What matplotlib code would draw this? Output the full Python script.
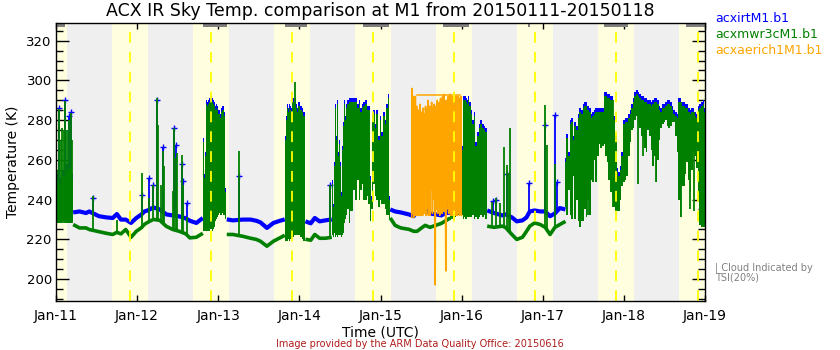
import numpy as np
import matplotlib
matplotlib.use('Agg')
import matplotlib.pyplot as plt
from matplotlib.ticker import MultipleLocator, FixedLocator

nan = np.nan
# ---------------- data (time in days since 2015-01-11 00:00 UTC) ----------------
tick_labels = ['Jan-11', 'Jan-12', 'Jan-13', 'Jan-14', 'Jan-15', 'Jan-16', 'Jan-17', 'Jan-18', 'Jan-19']
tick_days = [0, 1, 2, 3, 4, 5, 6, 7, 8]

day_start = [-0.31, 0.690, 1.686, 2.688, 3.687, 4.686, 5.682, 6.687, 7.682]
day_end = [0.134, 1.132, 2.133, 3.132, 4.131, 5.130, 6.127, 7.127, 8.125]
solar_noon = [-0.083, 0.917, 1.915, 2.914, 3.913, 4.912, 5.910, 6.905, 7.908]

tsi_start = [0.00, 1.81, 2.82, 3.79, 4.77, 5.82, 6.76, 7.76]
tsi_end = [0.11, 2.11, 3.09, 4.11, 5.09, 5.845, 7.05, 8.00]

# baseline (clear-sky) records
base_t = [0.212, 0.29, 0.37, 0.41, 0.53, 0.62, 0.70, 0.75, 0.80, 0.86, 0.925, 0.99, 1.05, 1.09, 1.13,
          1.20, 1.28, 1.36, 1.44, 1.52, 1.60, 1.65, 1.73, 1.81, nan,
          2.105, 2.18, 2.30, 2.40, 2.47, 2.52, 2.60, 2.68, 2.76, 2.82, nan,
          3.075, 3.14, 3.19, 3.25, 3.32, 3.40, nan,
          4.12, 4.18, 4.25, 4.35, 4.41, 4.45, 4.55, 4.61, 4.75, 4.86, nan,
          5.315, 5.40, 5.50, 5.54, 5.62, 5.68, 5.75, 5.80, 5.84, 5.90, 5.97, 6.03, 6.09, 6.15, 6.21, 6.28]
irt_v = [233.5, 234, 233.2, 234, 231.6, 231, 230.7, 232.7, 229.9, 229.9, 228.2, 230.7, 232.4, 234, 234.5,
         236, 235, 232.5, 232, 231.5, 230.5, 229.3, 228.2, 230.7, nan,
         230, 229.5, 229.9, 229.9, 229.3, 228.5, 225.7, 228.2, 229.3, 230, nan,
         229, 228, 230.7, 229, 229.5, 230, nan,
         235, 234, 233.5, 232.5, 231.6, 234.5, 235, 233, 232, 234.5, nan,
         234.5, 233.2, 232, 232.5, 231, 229, 229.5, 231, 234, 234.5, 234, 234, 231.6, 233, 235.7, 235]
mwr_v = [227.4, 225.7, 225.7, 224.9, 223.8, 223, 222.4, 223.5, 222.7, 224.9, 221, 224, 225.7, 227.5, 228.5,
         230, 229.5, 226.5, 224.9, 224, 222.7, 220.7, 221, 223, nan,
         222.4, 222.4, 221.5, 220.5, 219.9, 219, 216.5, 219, 220.7, 222, nan,
         220, 219.5, 222.4, 220.5, 220.5, 221, nan,
         230.7, 227, 225.7, 225, 224, 224, 227, 226, 228, 230.7, nan,
         226.6, 226, 226.6, 226, 222.4, 219.9, 221, 224, 226.6, 228.2, 227.4, 226, 222.4, 226, 227.4, 229]

# cloudy periods: envelopes (min / max) of the rapidly varying records
band_t = [0.000, 0.020, 0.060, 0.100, 0.140, 0.180, 0.205, 0.212, nan,
          1.81, 1.82, 1.83, 1.84, 1.85, 1.86, 1.87, 1.88, 1.89, 1.90, 1.91, 1.92, 1.93, 1.94, 1.95,
          1.96, 1.97, 1.98, 1.99, 2.00, 2.01, 2.02, 2.03, 2.04, 2.05, 2.06, 2.07, 2.08, 2.09, 2.10, nan,
          2.82, 2.83, 2.84, 2.85, 2.86, 2.87, 2.88, 2.89, 2.90, 2.91, 2.92, 2.93, 2.94, 2.95, 2.96,
          2.97, 2.98, 2.99, 3.00, 3.01, 3.02, 3.03, 3.04, 3.05, 3.06, 3.07, 3.075, nan,
          3.400, 3.410, 3.420, 3.430, 3.440, 3.450, 3.460, 3.470, 3.480, 3.490, 3.500, 3.510, 3.520,
          3.530, 3.540, 3.550, 3.560, 3.570, 3.580, 3.600, 3.620, 3.640, 3.670, 3.700, 3.720, 3.740,
          3.760, 3.780, 3.800, 3.820, 3.840, 3.860, 3.875, 3.885, 3.900, 3.920, 3.940, 3.960, 3.980,
          4.000, 4.020, 4.040, 4.060, 4.080, 4.100, 4.115, nan,
          4.86, 4.88, 4.90, 4.92, 4.94, 4.96, 4.98, 5.00, 5.01, 5.02, 5.03, 5.04, 5.05, 5.06, 5.07,
          5.08, 5.09, 5.10, 5.12, 5.14, 5.16, 5.18, 5.20, 5.22, 5.24, 5.26, 5.28, 5.30, 5.315, nan,
          6.28, 6.30, 6.32, 6.34, 6.36, 6.38, 6.40, 6.42, 6.44, 6.46, 6.48, 6.50, 6.52, 6.54, 6.56,
          6.58, 6.60, 6.62, 6.64, 6.66, 6.68, 6.70, 6.72, 6.74, 6.76, 6.78, 6.80, 6.82, 6.84, 6.86,
          6.88, 6.90, 6.92, 6.94, 6.96, 6.98, 7.00, 7.02, 7.04, 7.06, 7.08, 7.10, 7.12, 7.14, 7.16,
          7.18, 7.20, 7.22, 7.24, 7.26, 7.28, 7.30, 7.32, 7.34, 7.36, 7.38, 7.40, 7.42, 7.44, 7.46,
          7.48, 7.50, 7.52, 7.54, 7.56, 7.58, 7.60, 7.62, 7.64, 7.66, 7.68, 7.70, 7.72, 7.74, 7.76,
          7.78, 7.80, 7.82, 7.84, 7.86, 7.88, 7.90, 7.92, 7.94, 7.96, 7.98, 8.00]
mwr_hi = [245, 250, 248, 252, 255, 256, 250, 230, nan,
          232, 269, 251, 262, 285, 288, 287, 288, 289, 289, 288, 290, 289, 288, 287,
          288, 285, 286, 285, 283, 284, 283, 281, 284, 285, 285, 282, 282, 244, 229, nan,
          228, 270, 280, 286, 288, 284, 286, 285, 284, 288, 289, 289, 287, 289, 286,
          287, 284, 287, 287, 285, 283, 285, 284, 282, 282, 279, 230, nan,
          235, 248, 236, 257, 240, 286, 270, 288, 262, 268, 250, 257, 242,
          265, 277, 255, 288, 280, 286, 288, 289, 289, 289, 289, 286, 288,
          284, 286, 287, 288, 285, 285, 250, 240, 281, 283, 276, 283, 270,
          280, 272, 282, 278, 286, 291, 240, nan,
          276, 270, 268, 265, 262, 262, 260, 260, 265, 290, 289, 290, 290, 289, 288,
          290, 287, 287, 283, 278, 282, 267, 272, 276, 278, 276, 275, 274, 240, nan,
          259, 271, 262, 278, 279, 270, 277, 275, 281, 284, 283, 286, 287, 287, 285,
          284, 281, 282, 283, 284, 284, 284, 284, 284, 292, 292, 291, 291, 290, 290,
          280, 270, 254, 252, 255, 262, 278, 279, 279, 281, 283, 286, 289, 292, 293,
          292, 291, 290, 290, 289, 289, 288, 288, 287, 288, 289, 289, 288, 285, 284,
          286, 286, 287, 288, 288, 287, 285, 283, 282, 281, 289, 289, 287, 287, 286,
          286, 284, 283, 284, 284, 282, 281, 285, 286, 287, 288, 284]
mwr_lo = [228, 228, 228, 229, 228, 228, 229, 229, nan,
          224, 224, 224, 224, 223, 224, 224, 224, 224, 225, 224, 225, 224, 225, 226,
          227, 229, 230, 231, 232, 232, 233, 232, 232, 233, 232, 232, 232, 230, 223, nan,
          219, 219, 219, 219, 219, 220, 219, 220, 220, 221, 221, 221, 222, 222, 222,
          223, 222, 222, 222, 221, 221, 221, 220, 219, 219, 219, 219, nan,
          221, 222, 221, 223, 222, 221, 222, 221, 222, 222, 221, 222, 221,
          222, 223, 226, 228, 230, 232, 235, 228, 234, 245, 240, 250, 240,
          245, 248, 240, 240, 242, 238, 229, 235, 235, 248, 242, 240, 236,
          240, 238, 238, 235, 232, 232, 230, nan,
          230, 231, 231, 231, 232, 232, 232, 232, 232, 230, 230, 231, 230, 230, 231,
          231, 231, 231, 231, 232, 230, 231, 230, 231, 232, 231, 232, 230, 227, nan,
          236, 232, 245, 232, 230, 252, 230, 240, 229, 226, 229, 229, 235, 231, 240,
          232, 250, 249, 260, 249, 262, 268, 266, 267, 268, 262, 259, 250, 244, 242,
          236, 234, 234, 234, 240, 247, 249, 250, 252, 262, 269, 275, 276, 280, 282,
          278, 276, 272, 270, 266, 264, 275, 272, 265, 257, 262, 249, 260, 270, 276,
          278, 279, 280, 277, 276, 277, 279, 279, 272, 264, 240, 231, 247, 247, 253,
          259, 250, 244, 255, 264, 262, 256, 240, 227, 226, 226, 226]
irt_hi = [248, 253, 251, 255, 258, 259, 253, 234, nan,
          234, 271, 253, 264, 287, 290, 289, 290, 291, 291, 290, 292, 291, 290, 289,
          290, 287, 288, 287, 285, 286, 285, 283, 286, 287, 287, 284, 284, 246, 231, nan,
          232, 272, 282, 288, 290, 286, 288, 287, 286, 290, 291, 291, 289, 291, 288,
          289, 286, 289, 289, 287, 285, 287, 286, 284, 284, 281, 233, nan,
          237, 250, 238, 259, 242, 288, 272, 290, 264, 270, 252, 259, 244,
          267, 279, 257, 290, 282, 288, 290, 291, 291, 291, 291, 288, 290,
          286, 288, 289, 290, 287, 287, 252, 242, 283, 285, 278, 285, 272,
          282, 274, 284, 280, 288, 293, 242, nan,
          278, 272, 270, 267, 264, 264, 262, 262, 267, 292, 291, 292, 292, 291, 290,
          292, 289, 289, 285, 280, 284, 269, 274, 278, 280, 278, 277, 276, 242, nan,
          261, 273, 264, 280, 281, 272, 279, 277, 283, 286, 285, 288, 289, 289, 287,
          286, 283, 284, 285, 286, 286, 286, 286, 286, 294, 294, 293, 293, 292, 292,
          282, 272, 256, 254, 257, 264, 280, 281, 281, 283, 285, 288, 291, 294, 295,
          294, 293, 292, 292, 291, 291, 290, 290, 289, 290, 291, 291, 290, 287, 286,
          288, 288, 289, 290, 290, 289, 287, 285, 284, 283, 291, 291, 289, 289, 288,
          288, 286, 285, 286, 286, 284, 283, 287, 288, 289, 290, 286]
irt_lo = [233, 233, 233, 234, 233, 233, 234, 234, nan,
          230, 230, 230, 230, 230, 230, 230, 230, 230, 231, 230, 231, 230, 231, 231,
          232, 233, 233, 234, 234, 234, 235, 234, 234, 235, 234, 234, 234, 233, 230, nan,
          229, 229, 229, 229, 229, 229, 229, 229, 229, 229, 229, 229, 229, 229, 229,
          229, 229, 229, 229, 229, 229, 229, 229, 229, 229, 229, 229, nan,
          229, 229, 229, 230, 229, 229, 229, 229, 229, 229, 229, 229, 229,
          229, 230, 230, 231, 232, 233, 236, 233, 236, 246, 242, 251, 242,
          246, 249, 242, 242, 243, 240, 232, 236, 236, 249, 243, 242, 238,
          242, 240, 240, 237, 234, 234, 233, nan,
          234, 234, 234, 234, 234, 234, 234, 234, 234, 234, 234, 234, 234, 234, 234,
          234, 234, 234, 234, 234, 234, 234, 234, 234, 234, 234, 234, 234, 234, nan,
          238, 234, 247, 234, 233, 254, 233, 242, 233, 233, 233, 233, 237, 233, 242,
          234, 252, 251, 262, 251, 264, 270, 268, 269, 270, 264, 261, 252, 246, 244,
          238, 236, 236, 236, 242, 249, 251, 252, 254, 264, 271, 277, 278, 282, 284,
          280, 278, 274, 272, 268, 266, 277, 274, 267, 259, 264, 251, 262, 272, 278,
          280, 281, 282, 279, 278, 279, 281, 281, 274, 266, 242, 233, 249, 249, 255,
          261, 252, 246, 257, 266, 264, 258, 242, 233, 233, 233, 233]

# isolated spikes
irt_spike_t = [0.041, 0.115, 0.164, 0.190, 0.460, 1.060, 1.150, 1.190, 1.245, 1.320, 1.460, 1.480, 1.550,
               1.560, 1.620, 2.250, 3.380, 4.820, 4.840, 5.390, 5.420, 5.565, 5.830, 6.030, 6.150, 6.170]
irt_spike_lo = [234, 234, 234, 234, 233, 232, 234.5, 235, 235, 234, 232, 232, 231.5,
                231.5, 230.5, 229.5, 229.5, 232, 232, 233, 233, 232, 234, 234, 233, 233]
irt_spike_hi = [286, 290, 282, 284, 240.8, 242.5, 250.8, 247.5, 290.2, 266.7, 276, 267.6, 258,
                249.2, 238.3, 251.7, 247.5, 257.5, 281, 239.5, 240, 253, 248.3, 277.6, 282.7, 249]

mwr_spike_t = [0.010, 0.041, 0.060, 0.074, 0.100, 0.115, 0.135, 0.164, 0.185, 0.195, 0.460, 0.755, 1.060,
               1.150, 1.190, 1.245, 1.260, 1.290, 1.320, 1.335, 1.440, 1.460, 1.480, 1.490, 1.550, 1.560,
               1.620, 2.250, 2.945, 3.380, 4.880, 5.380, 5.420, 5.470, 5.520, 5.560, 5.580, 5.600, 6.030,
               6.050, 6.150, 6.400, 6.560, 6.870, 7.170, 7.240, 7.400, 7.700, 7.820, 7.870]
mwr_spike_lo = [228, 228, 228, 228, 228, 228, 228, 228, 228, 228, 224.5, 223, 226,
                229, 230, 230, 230, 229, 228, 227.5, 224.9, 224.5, 224.2, 224.2, 223.5, 223.4,
                222.5, 221.5, 222, 220.5, 230, 226, 226, 226.5, 226, 225, 224, 223.5, 226,
                225, 226, 245, 232, 236, 248, 262, 249, 231, 235, 234]
mwr_spike_hi = [255, 285.5, 270, 276, 275, 289.4, 275, 280, 283.6, 270, 241.6, 229.5, 253.4,
                240.8, 247.5, 291, 277.6, 247.5, 264.2, 256.7, 244.1, 276, 260.9, 263.4, 262.6, 247.5,
                231, 264.2, 299, 247.5, 276, 239, 240.8, 238.3, 266.7, 257.5, 253.4, 276, 287.7,
                267.6, 258, 277, 285, 290, 292, 290, 289, 289, 283, 284]

# AERI channel 1 record (Jan 15 09h - Jan 16 00h)
aeri_t = [4.386, 4.390, 4.394, 4.398, 4.402, 4.406, 4.410, 4.414, 4.418, 4.422, 4.426, 4.430, 4.434,
          4.438, 4.442, 4.446, 4.450, 4.455, 4.460, 4.465, 4.470, 4.475, 4.480, 4.485, 4.490, 4.495,
          4.500, 4.505, 4.510, 4.515, 4.520, 4.525, 4.530, 4.535, 4.540, 4.545, 4.550, 4.555, 4.560,
          4.565, 4.570, 4.575, 4.580, 4.585, 4.590, 4.595, 4.600, 4.605, 4.610, 4.620, 4.625, 4.630,
          4.640, 4.645, 4.650, 4.660, 4.668, 4.675, 4.680, 4.690, 4.700, 4.705, 4.710, 4.720, 4.725,
          4.730, 4.740, 4.745, 4.750, 4.760, 4.765, 4.770, 4.780, 4.785, 4.790, 4.800, 4.805, 4.810,
          4.815, 4.820, 4.830, 4.835, 4.840, 4.850, 4.855, 4.860, 4.865, 4.870, 4.875, 4.880, 4.885,
          4.890, 4.895, 4.900, 4.905, 4.910, 4.915, 4.920, 4.925, 4.930, 4.935, 4.940, 4.945, 4.950,
          4.955, 4.960, 4.965, 4.970, 4.975, 4.980, 4.985, 4.990, 4.995, 5.000]
aeri_v = [231, 296, 233, 290, 236, 292, 231, 288, 240, 285, 232, 291.9, 236,
          280, 232, 287, 238, 270, 232, 285, 250, 283, 232, 288, 240, 276,
          232, 284, 245, 280, 232, 286, 255, 278, 233, 283, 236, 287, 232,
          274, 240, 286, 236, 290, 232, 280, 238, 287, 232, 283, 245, 289,
          233, 286, 240, 288, 233, 197, 287, 235, 290, 233, 286, 236, 289,
          232, 291, 236, 285, 233, 292, 238, 293, 234, 287, 240, 204, 290,
          235, 288, 240, 292, 233, 290, 238, 293, 232, 291, 234, 292, 232,
          291, 233, 292, 233, 290, 234, 292, 232, 291, 234, 292, 232, 290,
          233, 292, 235, 291, 232, 290, 234, 292, 233, 232]
aeri_gap_t = [4.45, 4.98, nan, 4.55, 4.85]
aeri_gap_v = [292.5, 292.5, nan, 285.5, 285.5]

# ---------------- figure ----------------
BLUE, GREEN, ORANGE = '#0000ff', '#008000', '#ffa500'
plt.rcParams['font.family'] = ['DejaVu Sans']

fig = plt.figure(figsize=(8.4, 3.5), dpi=100)
ax = fig.add_axes([56 / 840, 49 / 350, 649 / 840, 278 / 350])
ax.set_facecolor('#efefef')

for s, e in zip(day_start, day_end):
    ax.axvspan(s, e, color='#ffffe0', lw=0, zorder=0.5)

bt = np.array(band_t, dtype=float)
ax.fill_between(bt, np.array(irt_lo, float), np.array(irt_hi, float), step='mid',
                color=BLUE, lw=0, zorder=2)
ax.plot(base_t, irt_v, color=BLUE, lw=3.0, zorder=2, solid_capstyle='butt')
ax.vlines(irt_spike_t, irt_spike_lo, irt_spike_hi, color=BLUE, lw=1.3, zorder=2)
ax.plot(irt_spike_t, irt_spike_hi, ls='none', marker='+', ms=4, mew=1, color=BLUE, zorder=2)

ax.fill_between(bt, np.array(mwr_lo, float), np.array(mwr_hi, float), step='mid',
                color=GREEN, lw=0, zorder=3)
ax.plot(base_t, mwr_v, color=GREEN, lw=2.6, zorder=3, solid_capstyle='butt')
ax.vlines(mwr_spike_t, mwr_spike_lo, mwr_spike_hi, color=GREEN, lw=1.3, zorder=3)

ax.plot(aeri_t, aeri_v, color=ORANGE, lw=1.1, zorder=4)
ax.plot(aeri_gap_t, aeri_gap_v, color=ORANGE, lw=1.1, zorder=4)

for n in solar_noon:
    ax.axvline(n, color='#ffff00', lw=1.3, dashes=(6, 5), zorder=5)

for s, e in zip(tsi_start, tsi_end):
    ax.axvspan(s, e, ymin=0.984, ymax=1.0, color='#808080', lw=0, zorder=6)

ax.set_xlim(0, 8)
ax.set_ylim(188.9, 328.9)
ax.xaxis.set_major_locator(FixedLocator(tick_days))
ax.set_xticklabels(tick_labels)
ax.yaxis.set_major_locator(MultipleLocator(20))
ax.yaxis.set_minor_locator(MultipleLocator(5))
ax.tick_params(axis='y', which='major', direction='in', length=9.5, width=1, right=True,
               labelsize=9.5, pad=3)
ax.tick_params(axis='y', which='minor', direction='in', length=5, width=1, right=True)
ax.tick_params(axis='x', which='major', direction='in', length=4.5, width=1, top=True,
               labelsize=10, pad=6)
for sp in ax.spines.values():
    sp.set_linewidth(1.0)
    sp.set_zorder(7)

fig.text(0.453, 0.969, 'ACX IR Sky Temp. comparison at M1 from 20150111-20150118',
         ha='center', va='center', fontsize=12.5)
fig.text(0.0149, 1 - 162 / 350, 'Temperature (K)', rotation=90,
         ha='center', va='center', fontsize=10)
fig.text(380.5 / 840, 1 - 332 / 350, 'Time (UTC)', ha='center', va='center', fontsize=10)
fig.text(0.4994, 1 - 344 / 350, 'Image provided by the ARM Data Quality Office: 20150616',
         ha='center', va='center', fontsize=7, color='#b01c1c')

fig.text(715 / 840, 1 - 19 / 350, 'acxirtM1.b1', color=BLUE, ha='left', va='center', fontsize=9)
fig.text(715 / 840, 1 - 34.7 / 350, 'acxmwr3cM1.b1', color=GREEN, ha='left', va='center', fontsize=9)
fig.text(715 / 840, 1 - 50 / 350, 'acxaerich1M1.b1', color=ORANGE, ha='left', va='center', fontsize=9)

fig.text(715 / 840, 1 - 268 / 350, '| Cloud Indicated by', color='#808080', ha='left', va='center',
         fontsize=7)
fig.text(715 / 840, 1 - 277 / 350, 'TSI(20%)', color='#808080', ha='left', va='center', fontsize=7)

fig.savefig('out.png', dpi=100)
